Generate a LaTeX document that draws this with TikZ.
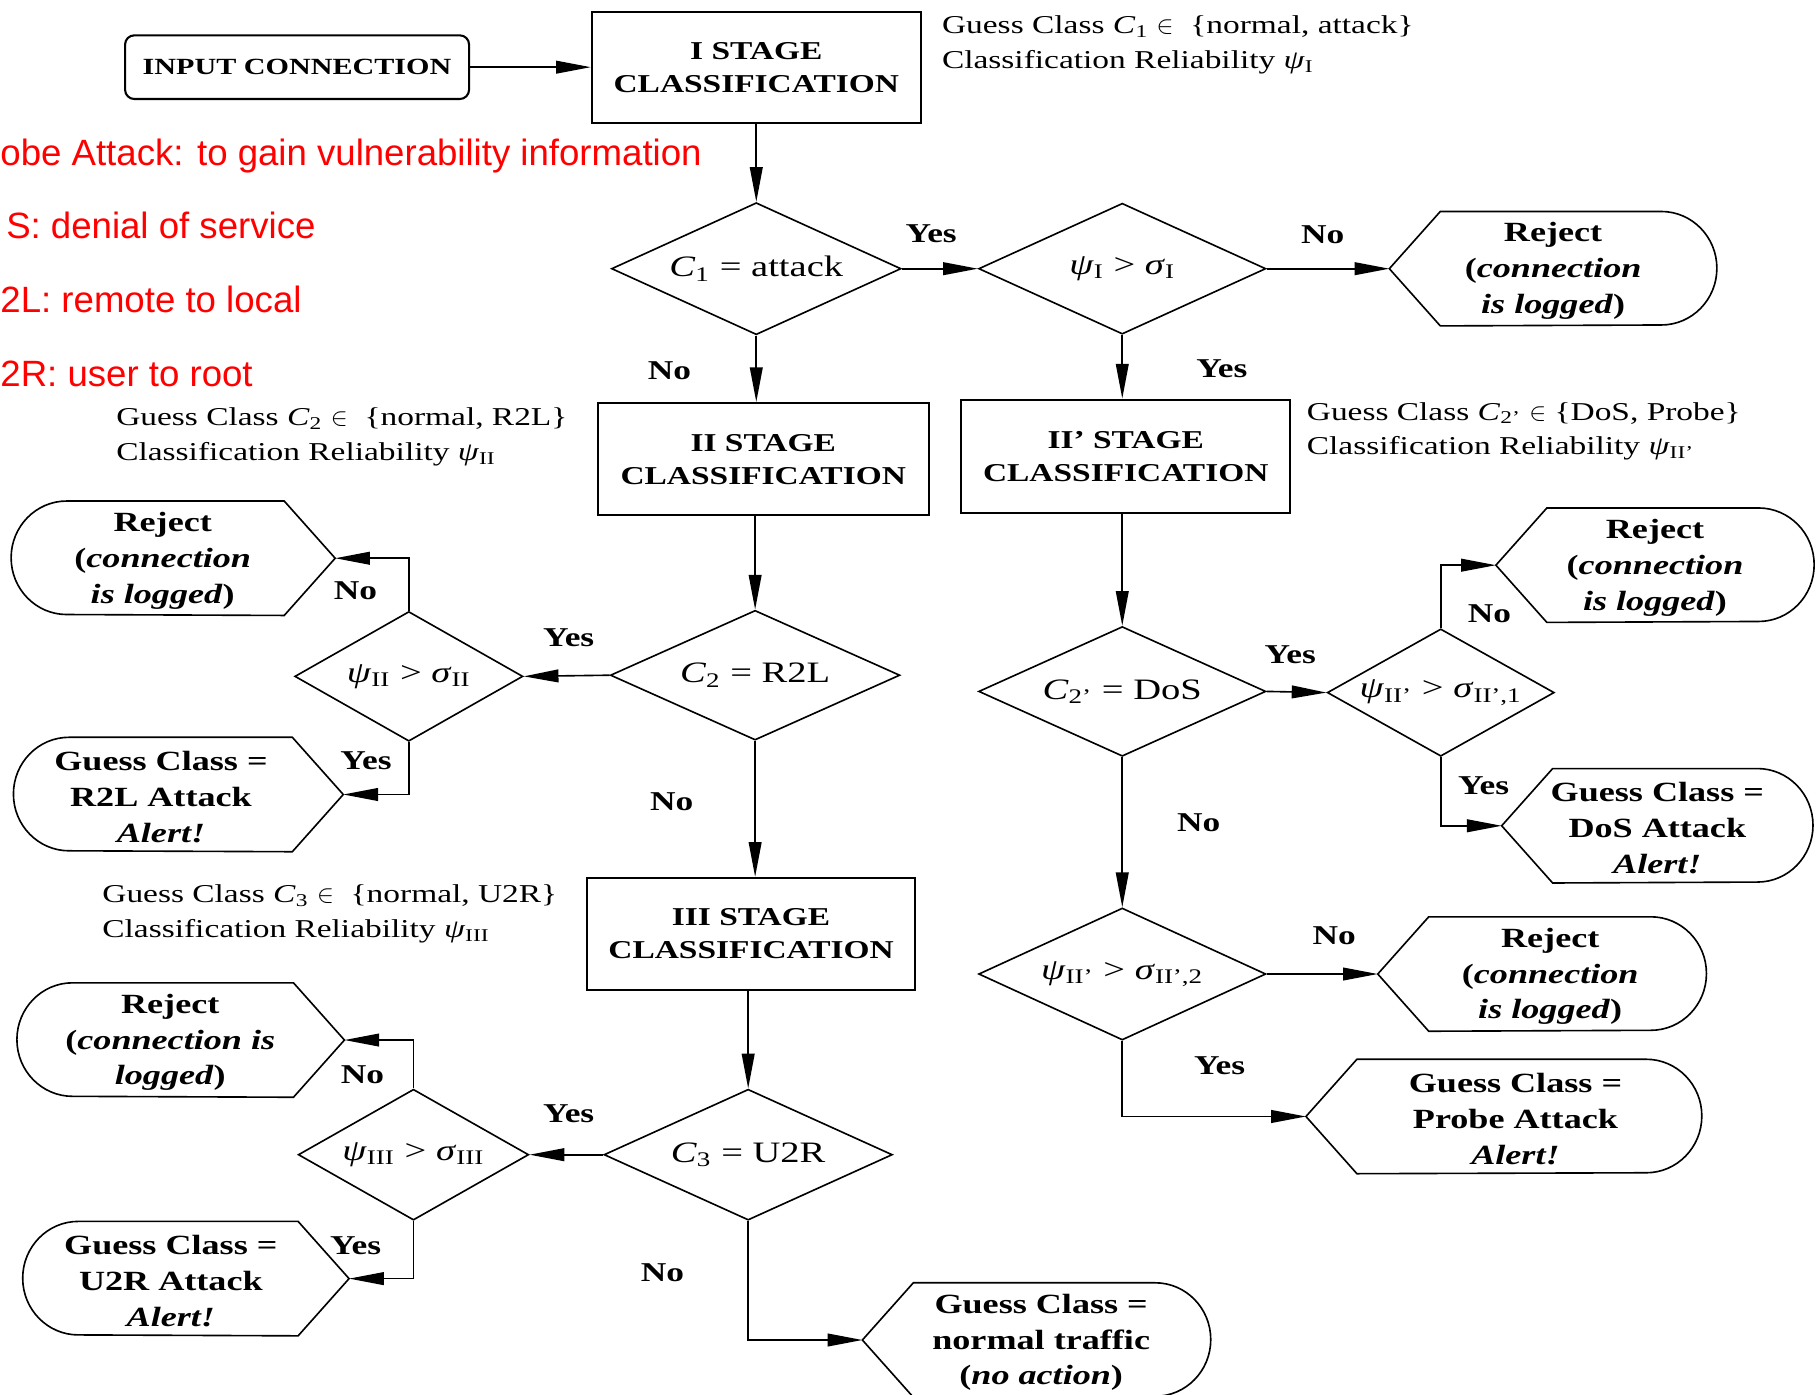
\documentclass[tikz,border=0pt]{standalone}
\usepackage{fontspec}
\setmainfont{Liberation Serif}[FakeStretch=1.3]
\newfontfamily\redfont{Liberation Sans}
\usetikzlibrary{shapes.geometric,arrows.meta}
\newcommand\sbs[1]{\textsubscript{#1}}
\newcommand\zw[1]{\makebox[0pt]{#1}}
\begin{document}
\begin{tikzpicture}[x=0.5pt,y=-0.5pt,
  arr/.style={-{Triangle[length=15pt,width=5.5pt]}, line width=0.7pt},
  stagebox/.style={draw, line width=0.9pt, align=center, inner sep=0pt,
    font=\bfseries\fontsize{11.1pt}{14.25pt}\selectfont},
  dia/.style={draw, diamond, shape aspect=2.2, line width=0.7pt, inner sep=0pt,
    font=\fontsize{12.8pt}{15pt}\selectfont},
  term/.style={minimum height=49pt, inner sep=0pt},
  tlab/.style={align=center, inner sep=0pt, yshift=-1pt,
    font=\bfseries\fontsize{12pt}{15.5pt}\selectfont},
  outl/.style={draw, line width=0.7pt},
  yn/.style={inner sep=0pt, font=\bfseries\fontsize{11.75pt}{14pt}\selectfont},
  ann/.style={anchor=west, align=left, inner sep=0pt,
    font=\fontsize{11.1pt}{15pt}\selectfont},
  redline/.style={text=red, anchor=base west, inner sep=0pt,
    font=\redfont\fontsize{15.8pt}{18pt}\selectfont}
]
\useasboundingbox (0,0) rectangle (1568,1204);

% red notes
\node[redline] (n1) at (0,142.5) {obe Attack: to gain vulnerability information};
\node[redline] (n2) at (5,206) {S: denial of service};
\node[redline] (n3) at (0,270) {2L: remote to local};
\node[redline] (n4) at (0,334) {2R: user to root};

% rectangles
\node[draw, line width=0.9pt, rounded corners=4pt, minimum width=148.5pt, minimum height=27.5pt,
  inner sep=0pt, font=\bfseries\fontsize{10pt}{12pt}\selectfont] (input) at (256.5,58) {INPUT CONNECTION};
\node[stagebox, minimum width=142pt, minimum height=48pt] (stage1) at (653,58) {I STAGE\\CLASSIFICATION};
\node[stagebox, minimum width=143pt, minimum height=48.5pt] (stage2) at (659,396.5) {II STAGE\\CLASSIFICATION};
\node[stagebox, minimum width=142pt, minimum height=49pt] (stage2p) at (972,394) {II' STAGE\\CLASSIFICATION};
\node[stagebox, minimum width=141.5pt, minimum height=48.5pt] (stage3) at (648.5,806.5) {III STAGE\\CLASSIFICATION};

% diamonds
\node[dia, minimum width=125pt, minimum height=57pt] (c1) at (653,232) {\zw{\textit{C}\sbs{1} = attack}};
\node[dia, minimum width=124pt, minimum height=56.5pt] (p1) at (969,232) {\zw{\textit{ψ}\sbs{I} > \textit{σ}\sbs{I}}};
\node[dia, minimum width=125pt, minimum height=56pt] (c2) at (652,583) {\zw{\textit{C}\sbs{2} = R2L}};
\node[dia, minimum width=98.5pt, minimum height=56pt] (p2) at (353,584) {\zw{\textit{ψ}\sbs{II} > \textit{σ}\sbs{II}}};
\node[dia, minimum width=124.5pt, minimum height=56.5pt] (c3) at (646,997) {\zw{\textit{C}\sbs{3} = U2R}};
\node[dia, minimum width=99.5pt, minimum height=56.5pt] (p3) at (357,997) {\zw{\textit{ψ}\sbs{III} > \textit{σ}\sbs{III}}};
\node[dia, minimum width=124pt, minimum height=56pt] (c2p) at (969,597) {\zw{\textit{C}\sbs{2'} = DoS}};
\node[dia, minimum width=98pt, minimum height=55pt] (p2a) at (1244,598) {\zw{\textit{ψ}\sbs{II'} > \textit{σ}\sbs{II',1}}};
\node[dia, minimum width=124pt, minimum height=57pt] (p2b) at (969,841) {\zw{\textit{ψ}\sbs{II'} > \textit{σ}\sbs{II',2}}};

% terminals, pointed on the left
\node[term, minimum width=141pt, label={[tlab]center:{Reject\\(\textit{connection}\\\textit{is logged})}}] (rejA) at (1341,232) {};
\node[term, minimum width=137pt, label={[tlab]center:{Reject\\(\textit{connection}\\\textit{is logged})}}] (rejB) at (1429,488) {};
\node[term, minimum width=134pt, label={[tlab]center:{Guess Class =\\DoS Attack\\\textit{Alert!}}}] (dosA) at (1431,713) {};
\node[term, minimum width=141.5pt, label={[tlab,xshift=3.5pt]center:{Reject\\(\textit{connection}\\\textit{is logged})}}] (rejC) at (1331.5,841) {};
\node[term, minimum width=170.5pt, label={[tlab,xshift=5pt]center:{Guess Class =\\Probe Attack\\\textit{Alert!}}}] (probeA) at (1298.5,964) {};
\node[term, minimum width=150pt, label={[tlab,xshift=2pt]center:{Guess Class =\\normal traffic\\(\textit{no action})}}] (normal) at (895,1157) {};
% terminals, pointed on the right
\node[term, minimum width=139.5pt, label={[tlab,xshift=-4.5pt]center:{Reject\\(\textit{connection}\\\textit{is logged})}}] (rejL2) at (149.5,482) {};
\node[term, minimum width=142pt, label={[tlab,xshift=-7.5pt]center:{Guess Class =\\R2L Attack\\\textit{Alert!}}}] (r2l) at (154,686) {};
\node[term, minimum width=141pt, label={[tlab,xshift=-4.5pt]center:{Reject\\(\textit{connection is}\\\textit{logged})}}] (rejL3) at (156,898) {};
\node[term, minimum width=140.5pt, label={[tlab,xshift=-6.5pt]center:{Guess Class =\\U2R Attack\\\textit{Alert!}}}] (u2r) at (160.5,1104) {};

\foreach \n in {rejA,rejB,dosA,rejC,probeA,normal}
  \draw[outl] (\n.west) -- ([xshift=22pt]\n.north west) -- ([xshift=-24pt]\n.north east)
    arc[start angle=90,end angle=-90,x radius=24pt,y radius=24.5pt]
    -- ([xshift=22pt]\n.south west) -- cycle;
\foreach \n in {rejL2,r2l,rejL3,u2r}
  \draw[outl] (\n.east) -- ([xshift=-22pt]\n.north east) -- ([xshift=24pt]\n.north west)
    arc[start angle=90,end angle=270,x radius=24pt,y radius=24.5pt]
    -- ([xshift=-22pt]\n.south east) -- cycle;

% annotations
\node[ann] (a1) at (813,39) {Guess Class \textit{C}\sbs{1} $\in$ \ \{normal, attack\}\\Classification Reliability \textit{ψ}\sbs{I}};
\node[ann] (a2) at (100,377.5) {Guess Class \textit{C}\sbs{2} $\in$ \ \{normal, R2L\}\\Classification Reliability \textit{ψ}\sbs{II}};
\node[ann] (a2p) at (1128,372.5) {Guess Class \textit{C}\sbs{2'} $\in$ \{DoS, Probe\}\\Classification Reliability \textit{ψ}\sbs{II'}};
\node[ann] (a3) at (88,789) {Guess Class \textit{C}\sbs{3} $\in$ \ \{normal, U2R\}\\Classification Reliability \textit{ψ}\sbs{III}};

% connectors
\draw[arr] (input) -- (stage1);
\draw[arr] (stage1) -- (c1);
\draw[arr] (c1) -- (p1);
\draw[arr] (p1) -- (rejA.west);
\draw[arr] (c1.south) -- (c1.south |- stage2.north);
\draw[arr] (p1.south) -- (p1.south |- stage2p.north);
\draw[arr] (stage2.south -| c2.north) -- (c2.north);
\draw[arr] (c2.west) -- (p2.east);
\draw[arr] (p2.north) |- (rejL2.east);
\draw[arr] (p2.south) |- (r2l.east);
\draw[arr] (c2.south) -- (c2.south |- stage3.north);
\draw[arr] (stage3.south -| c3.north) -- (c3.north);
\draw[arr] (c3.west) -- (p3.east);
\draw[arr] (p3.north) |- (rejL3.east);
\draw[arr] (p3.south) |- (u2r.east);
\draw[arr] (c3.south) |- (normal.west);
\draw[arr] (stage2p.south -| c2p.north) -- (c2p.north);
\draw[arr] (c2p.east) -- (p2a.west);
\draw[arr] (p2a.north) |- (rejB.west);
\draw[arr] (p2a.south) |- (dosA.west);
\draw[arr] (c2p.south) -- (p2b.north);
\draw[arr] (p2b.east) -- (rejC.west);
\draw[arr] (p2b.south) |- (probeA.west);

% yes / no labels
\node[yn] (y1) at (804,202) {Yes};
\node[yn] (n1l) at (1142,203) {No};
\node[yn] (n2l) at (578,320) {No};
\node[yn] (y2) at (1055,318) {Yes};
\node[yn] (n3l) at (307,510) {No};
\node[yn] (y3) at (491,551) {Yes};
\node[yn] (y4) at (316,657) {Yes};
\node[yn] (n4l) at (580,692) {No};
\node[yn] (y5) at (1114,565) {Yes};
\node[yn] (n5l) at (1286,530) {No};
\node[yn] (y6) at (1281,678) {Yes};
\node[yn] (n6l) at (1035,710) {No};
\node[yn] (n7l) at (1152,808) {No};
\node[yn] (y7) at (1053,920) {Yes};
\node[yn] (n8l) at (313,928) {No};
\node[yn] (y8) at (491,962) {Yes};
\node[yn] (y9) at (307,1076) {Yes};
\node[yn] (n9l) at (572,1099) {No};
\end{tikzpicture}
\end{document}
